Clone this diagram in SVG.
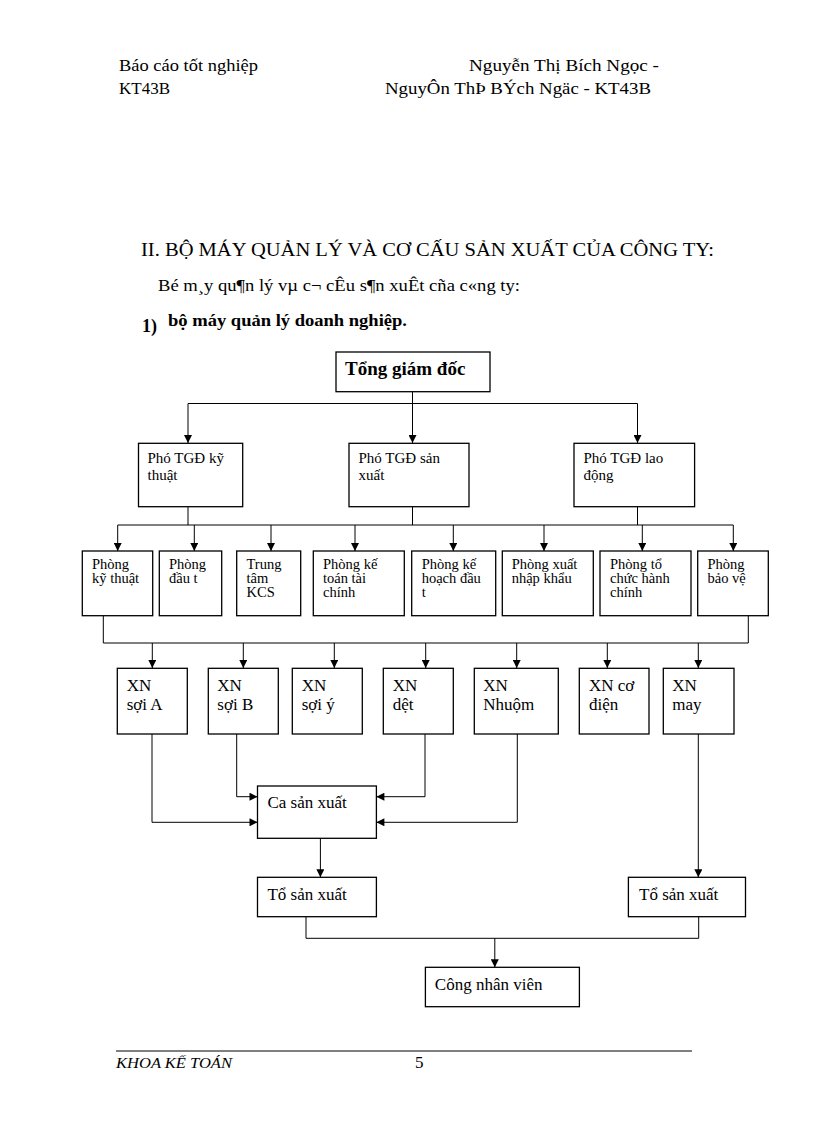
<svg xmlns="http://www.w3.org/2000/svg" width="816" height="1123" viewBox="0 0 816 1123">
<style>
text{font-family:"Liberation Serif","Times New Roman",serif;fill:#000}
.hd{font-size:17px}
.b{font-weight:bold}
.box{fill:#fff;stroke:#000;stroke-width:1.3}
.n15{font-size:15px}
.n14{font-size:14.5px}
.n18{font-size:17px}
.con path,.con line{fill:none;stroke:#000;stroke-width:1}
</style>
<defs>
<marker id="ah" viewBox="0 0 10 10" refX="10" refY="5" markerWidth="9" markerHeight="8" markerUnits="userSpaceOnUse" orient="auto"><path d="M0,0 L10,5 L0,10 z" fill="#000"/></marker>
</defs>
<rect width="816" height="1123" fill="#fff"/>
<g id="header">
<text class="hd" x="119" y="71" textLength="139" lengthAdjust="spacingAndGlyphs">Báo cáo tốt nghiệp</text>
<text class="hd" x="469" y="71" textLength="190" lengthAdjust="spacingAndGlyphs">Nguyễn  Thị Bích Ngọc -</text>
<text class="hd" x="119" y="94">KT43B</text>
<text class="hd" x="385" y="94" textLength="266" lengthAdjust="spacingAndGlyphs">NguyÔn ThÞ BÝch Ngäc - KT43B</text>
<text style="font-size:18px" x="141" y="256" textLength="573" lengthAdjust="spacingAndGlyphs">II. BỘ MÁY  QUẢN  LÝ  VÀ  CƠ  CẤU  SẢN  XUẤT  CỦA  CÔNG  TY:</text>
<text class="hd" x="158" y="291" textLength="362" lengthAdjust="spacingAndGlyphs">Bé m¸y qu¶n lý vµ c¬ cÊu s¶n xuÊt cña c«ng ty:</text>
<text class="b" style="font-size:18px" x="142" y="332">1)</text>
<text class="hd b" x="168" y="326" textLength="239" lengthAdjust="spacingAndGlyphs">bộ máy quản lý doanh nghiệp.</text>
</g>
<g class="con" id="connectors">
<line x1="412.5" y1="392" x2="412.5" y2="443" marker-end="url(#ah)"/>
<line x1="188" y1="403.5" x2="637.5" y2="403.5"/>
<line x1="188" y1="403.5" x2="188" y2="443" marker-end="url(#ah)"/>
<line x1="637.5" y1="403.5" x2="637.5" y2="443" marker-end="url(#ah)"/>
<line x1="188" y1="506.7" x2="188" y2="525"/>
<line x1="412.5" y1="506.7" x2="412.5" y2="525"/>
<line x1="637.5" y1="506.7" x2="637.5" y2="525"/>
<line x1="117.7" y1="525" x2="733.3" y2="525"/>
<line x1="117.7" y1="525" x2="117.7" y2="551" marker-end="url(#ah)"/>
<line x1="194.3" y1="525" x2="194.3" y2="551" marker-end="url(#ah)"/>
<line x1="271" y1="525" x2="271" y2="551" marker-end="url(#ah)"/>
<line x1="355" y1="525" x2="355" y2="551" marker-end="url(#ah)"/>
<line x1="453.3" y1="525" x2="453.3" y2="551" marker-end="url(#ah)"/>
<line x1="544" y1="525" x2="544" y2="551" marker-end="url(#ah)"/>
<line x1="642.3" y1="525" x2="642.3" y2="551" marker-end="url(#ah)"/>
<line x1="733.3" y1="525" x2="733.3" y2="551" marker-end="url(#ah)"/>
<path d="M103.3,615.7 V643 H748.3 V615.7"/>
<line x1="152.3" y1="643" x2="152.3" y2="668" marker-end="url(#ah)"/>
<line x1="243.3" y1="643" x2="243.3" y2="668" marker-end="url(#ah)"/>
<line x1="334.3" y1="643" x2="334.3" y2="668" marker-end="url(#ah)"/>
<line x1="425.7" y1="643" x2="425.7" y2="668" marker-end="url(#ah)"/>
<line x1="516.7" y1="643" x2="516.7" y2="668" marker-end="url(#ah)"/>
<line x1="607.3" y1="643" x2="607.3" y2="668" marker-end="url(#ah)"/>
<line x1="698.3" y1="643" x2="698.3" y2="668" marker-end="url(#ah)"/>
<path d="M152,734 V822.3 H257.5" marker-end="url(#ah)"/>
<path d="M236.7,734 V796.7 H257.5" marker-end="url(#ah)"/>
<path d="M425,734 V796.7 H376.4" marker-end="url(#ah)"/>
<path d="M517.3,734 V822.3 H376.4" marker-end="url(#ah)"/>
<line x1="698.3" y1="734" x2="698.3" y2="877.3" marker-end="url(#ah)"/>
<line x1="320.4" y1="838.3" x2="320.4" y2="877.3" marker-end="url(#ah)"/>
<path d="M306,912 V938.3 H698.7 V912"/>
<line x1="494.8" y1="938.3" x2="494.8" y2="967.3" marker-end="url(#ah)"/>
</g>
<g id="n-tgd"><rect class="box" x="336" y="352" width="154" height="39.7"/><text class="b" style="font-size:19px" x="345" y="375">Tổng giám đốc</text></g>
<g id="n-pho-kt"><rect class="box" x="138.5" y="443.3" width="104.2" height="63.4"/><text class="n15" x="147.5" y="463">Phó TGĐ kỹ</text><text class="n15" x="147.5" y="480">thuật</text></g>
<g id="n-pho-sx"><rect class="box" x="349" y="443.3" width="120" height="63.4"/><text class="n15" x="358.5" y="463">Phó TGĐ sản</text><text class="n15" x="358.5" y="480">xuất</text></g>
<g id="n-pho-ld"><rect class="box" x="574" y="443.3" width="120.6" height="63.4"/><text class="n15" x="583.5" y="463">Phó TGĐ lao</text><text class="n15" x="583.5" y="480">động</text></g>
<g id="n-p1"><rect class="box" x="82.3" y="551" width="70.4" height="64.7"/><text class="n14" x="92" y="569">Phòng</text><text class="n14" x="92" y="583">kỹ thuật</text></g>
<g id="n-p2"><rect class="box" x="159.3" y="551" width="62.4" height="64.7"/><text class="n14" x="169" y="569">Phòng</text><text class="n14" x="169" y="583">đầu t</text></g>
<g id="n-p3"><rect class="box" x="236.7" y="551" width="64" height="64.7"/><text class="n14" x="246.5" y="569">Trung</text><text class="n14" x="246.5" y="583">tâm</text><text class="n14" x="246.5" y="597">KCS</text></g>
<g id="n-p4"><rect class="box" x="313.3" y="551" width="91" height="64.7"/><text class="n14" x="323" y="569">Phòng kế</text><text class="n14" x="323" y="583">toán tài</text><text class="n14" x="323" y="597">chính</text></g>
<g id="n-p5"><rect class="box" x="411.7" y="551" width="84" height="64.7"/><text class="n14" x="421.7" y="569">Phòng kế</text><text class="n14" x="421.7" y="583">hoạch đầu</text><text class="n14" x="421.7" y="597">t</text></g>
<g id="n-p6"><rect class="box" x="502.3" y="551" width="91" height="64.7"/><text class="n14" x="511.7" y="569">Phòng xuất</text><text class="n14" x="511.7" y="583">nhập khẩu</text></g>
<g id="n-p7"><rect class="box" x="600" y="551" width="91" height="64.7"/><text class="n14" x="610" y="569">Phòng tổ</text><text class="n14" x="610" y="583">chức hành</text><text class="n14" x="610" y="597">chính</text></g>
<g id="n-p8"><rect class="box" x="697.7" y="551" width="70.6" height="64.7"/><text class="n14" x="707.5" y="569">Phòng</text><text class="n14" x="707.5" y="583">bảo vệ</text></g>
<g id="n-xn1"><rect class="box" x="117.3" y="668.3" width="70" height="65.7"/><text class="n18" x="126.7" y="691">XN</text><text class="n18" x="126.7" y="709.5">sợi A</text></g>
<g id="n-xn2"><rect class="box" x="208.3" y="668.3" width="70" height="65.7"/><text class="n18" x="217.3" y="691">XN</text><text class="n18" x="217.3" y="709.5">sợi B</text></g>
<g id="n-xn3"><rect class="box" x="292.3" y="668.3" width="70" height="65.7"/><text class="n18" x="301.7" y="691">XN</text><text class="n18" x="301.7" y="709.5">sợi ý</text></g>
<g id="n-xn4"><rect class="box" x="383.3" y="668.3" width="70" height="65.7"/><text class="n18" x="392.7" y="691">XN</text><text class="n18" x="392.7" y="709.5">dệt</text></g>
<g id="n-xn5"><rect class="box" x="474.3" y="668.3" width="84" height="65.7"/><text class="n18" x="483.3" y="691">XN</text><text class="n18" x="483.3" y="709.5">Nhuộm</text></g>
<g id="n-xn6"><rect class="box" x="579.3" y="668.3" width="69.7" height="65.7"/><text class="n18" x="589" y="691">XN cơ</text><text class="n18" x="589" y="709.5">điện</text></g>
<g id="n-xn7"><rect class="box" x="663.3" y="668.3" width="70.7" height="65.7"/><text class="n18" x="672.3" y="691">XN</text><text class="n18" x="672.3" y="709.5">may</text></g>
<g id="n-ca"><rect class="box" x="257.5" y="786" width="118.9" height="52.3"/><text class="n18" x="267.4" y="808">Ca sản xuất</text></g>
<g id="n-to1"><rect class="box" x="257.5" y="877.3" width="118.9" height="39.4"/><text class="n18" x="267.4" y="900">Tổ sản xuất</text></g>
<g id="n-to2"><rect class="box" x="628.4" y="877.3" width="117.1" height="39.4"/><text class="n18" x="639" y="900">Tổ sản xuất</text></g>
<g id="n-cnv"><rect class="box" x="425.4" y="967.3" width="154" height="39.4"/><text class="n18" x="434.8" y="990">Công nhân viên</text></g>
<g id="footer">
<line x1="116" y1="1051" x2="692" y2="1051" stroke="#000" stroke-width="1"/>
<text style="font-size:15px;font-style:italic" x="116" y="1068" textLength="116" lengthAdjust="spacingAndGlyphs">KHOA KẾ TOÁN</text>
<text class="hd" x="415" y="1068">5</text>
</g>
</svg>
